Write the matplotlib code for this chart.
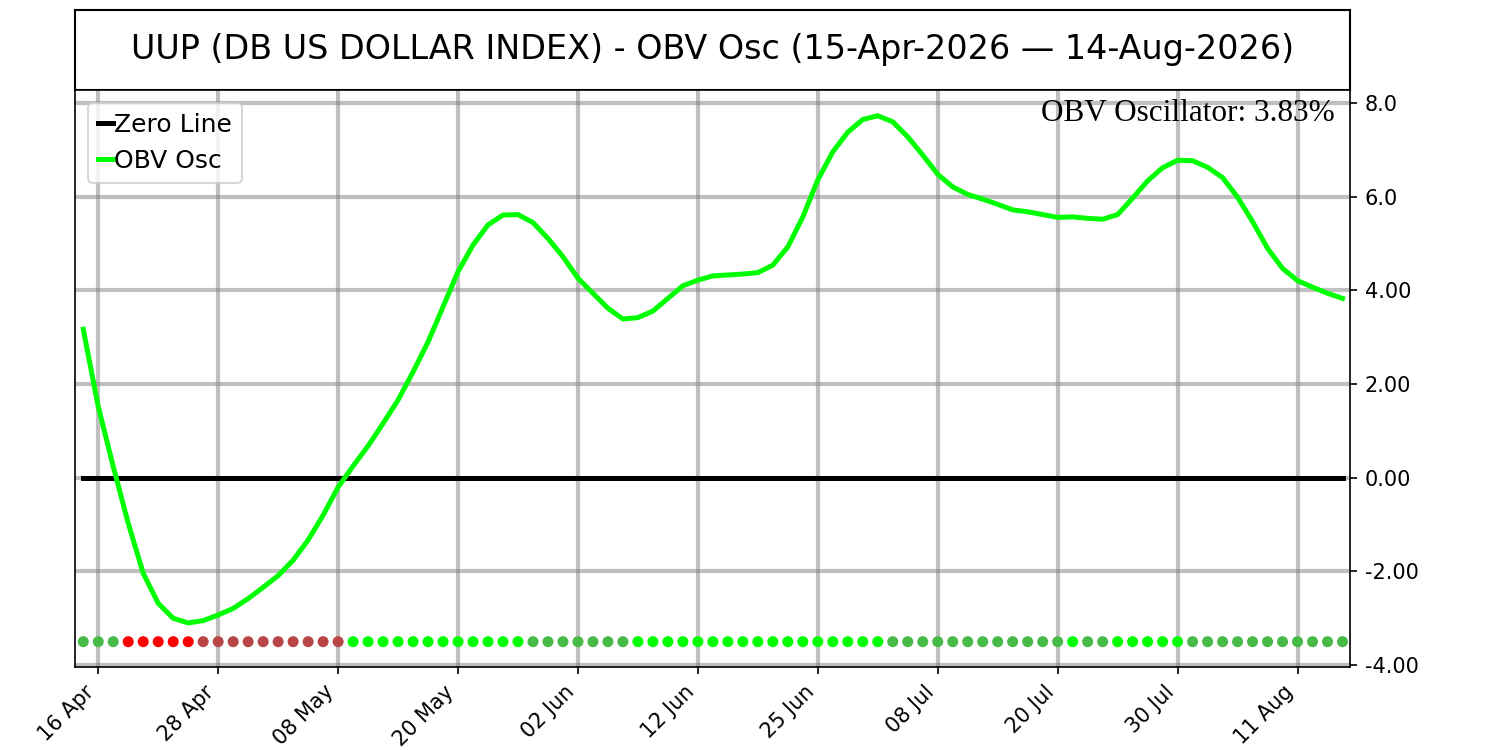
import matplotlib
matplotlib.use("Agg")
import matplotlib.pyplot as plt
import numpy as np
from datetime import date

# ---------------- data ----------------
trading_days = (
    [(4, d) for d in [15, 16, 17, 20, 21, 22, 23, 24, 27, 28, 29, 30]]
    + [(5, d) for d in [1, 4, 5, 6, 7, 8, 11, 12, 13, 14, 15, 18, 19, 20, 21, 22, 26, 27, 28, 29]]
    + [(6, d) for d in [1, 2, 3, 4, 5, 8, 9, 10, 11, 12, 15, 16, 17, 18, 22, 23, 24, 25, 26, 29, 30]]
    + [(7, d) for d in [1, 2, 6, 7, 8, 9, 10, 13, 14, 15, 16, 17, 20, 21, 22, 23, 24, 27, 28, 29, 30, 31]]
    + [(8, d) for d in [3, 4, 5, 6, 7, 10, 11, 12, 13, 14]]
)
dates = [date(2026, m, d) for m, d in trading_days]

obv_osc = [
    3.17, 1.52, 0.24, -0.97, -2.04, -2.68, -3.00, -3.10, -3.05, -2.93,
    -2.79, -2.58, -2.34, -2.09, -1.76, -1.33, -0.80, -0.20, 0.25, 0.68,
    1.16, 1.66, 2.26, 2.90, 3.65, 4.40, 4.97, 5.40, 5.61, 5.62,
    5.45, 5.11, 4.72, 4.26, 3.94, 3.62, 3.39, 3.42, 3.56, 3.83,
    4.10, 4.22, 4.31, 4.33, 4.35, 4.38, 4.54, 4.93, 5.57, 6.36,
    6.96, 7.38, 7.65, 7.73, 7.60, 7.28, 6.89, 6.48, 6.21, 6.05,
    5.95, 5.84, 5.72, 5.68, 5.62, 5.56, 5.57, 5.54, 5.52, 5.62,
    5.97, 6.34, 6.62, 6.78, 6.77, 6.63, 6.41, 5.99, 5.47, 4.90,
    4.47, 4.21, 4.07, 3.94, 3.83,
]

ytick_values = [-4, -2, 0, 2, 4, 6, 8]
ytick_labels = ["-4.00", "-2.00", "0.00", "2.00", "4.00", "6.0", "8.0"]
tick_step = 8
tick_start = 1
title = "UUP (DB US DOLLAR INDEX) - OBV Osc (15-Apr-2026 \u2014 14-Aug-2026)"
dot_level = -3.5

# colours of the state dots
col_pos_up = "#00ff00"
col_pos_down = "#47ba47"
col_neg_down = "#ff0000"
col_neg_up = "#b94646"

# ---------------- figure ----------------
x = np.arange(len(obv_osc))
vals = np.array(obv_osc)
prev = np.concatenate([[vals[0] + 1], vals[:-1]])
rising = vals > prev
dot_colors = []
for v, r in zip(vals, rising):
    if v >= 0:
        dot_colors.append(col_pos_up if r else col_pos_down)
    else:
        dot_colors.append(col_neg_up if r else col_neg_down)

fig = plt.figure(figsize=(10, 5), dpi=150)
ax_t = fig.add_axes([0.05, 0.88, 0.85, 0.1067])
ax_t.set_xticks([])
ax_t.set_yticks([])
ax_t.text(0.5, 0.5, title, ha="center", va="center", fontsize=16, transform=ax_t.transAxes)
for s in ax_t.spines.values():
    s.set_linewidth(1.0)

ax = fig.add_axes([0.05, 0.1107, 0.85, 0.7693])
ax.plot(x, np.zeros(len(x)), color="black", lw=2.4, label="Zero Line", zorder=3)
ax.plot(x, vals, color="#00ff00", lw=2.4, label="OBV Osc", zorder=4)
ax.scatter(x, np.full(len(x), dot_level), c=dot_colors, s=28, zorder=5, linewidths=0)

ax.set_xlim(-0.55, len(x) - 0.5)
ax.set_ylim(-4.04, 8.28)
ax.yaxis.tick_right()
ax.set_yticks(ytick_values)
ax.set_yticklabels(ytick_labels)
tick_idx = list(range(tick_start, len(x), tick_step))
ax.set_xticks(tick_idx)
ax.set_xticklabels([dates[i].strftime("%d %b") for i in tick_idx], rotation=45, ha="right")
ax.grid(True, color="gray", alpha=0.5, lw=2)
ax.set_axisbelow(True)

ax.legend(loc="upper left", fontsize=12, handlelength=0.6, handletextpad=0.05)
ax.text(0.988, 0.985, "OBV Oscillator: %.2f%%" % vals[-1], transform=ax.transAxes,
        ha="right", va="top", fontsize=15, family="Liberation Serif", zorder=6)

fig.savefig("out.png", dpi=150)
